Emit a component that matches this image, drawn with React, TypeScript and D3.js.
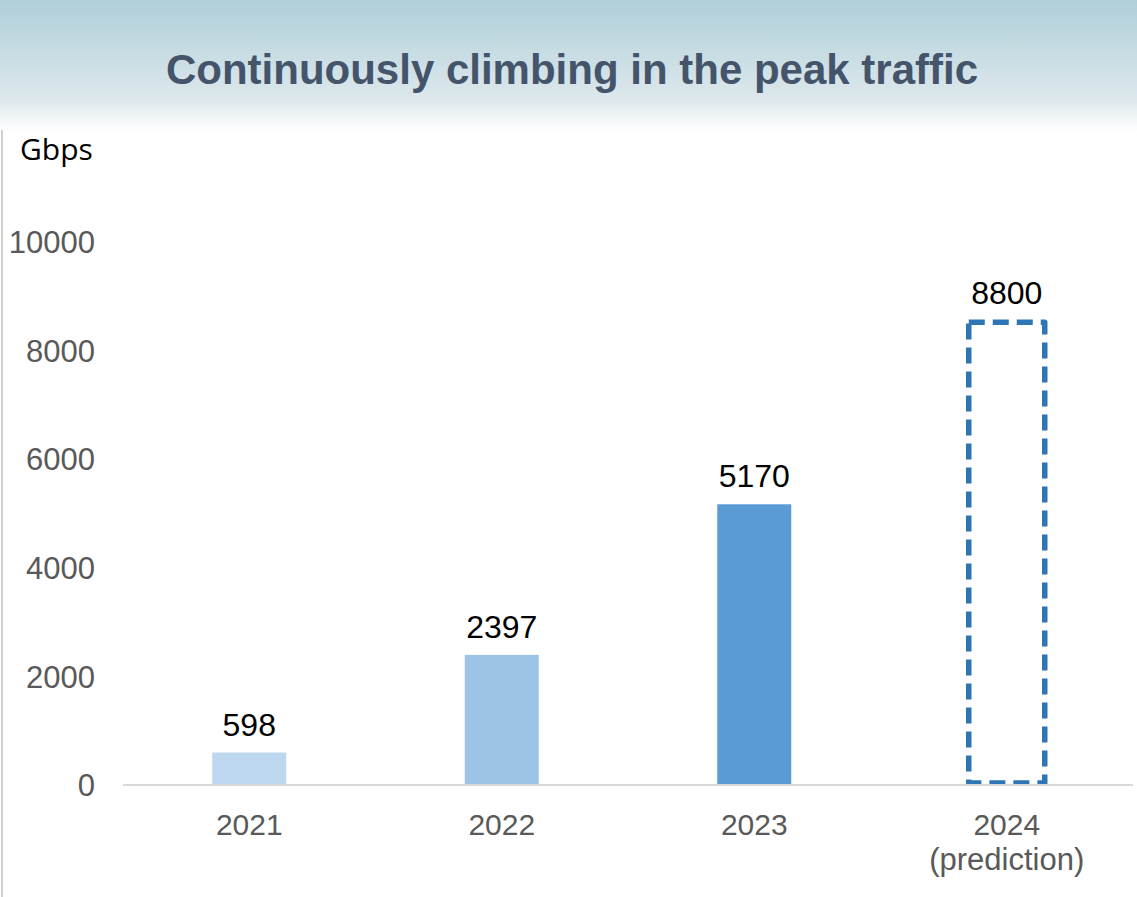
import React from "react";
import * as d3 from "d3";

const categories = ["2021", "2022", "2023", "2024"];
const categorySub = ["", "", "", "(prediction)"];
const barValues = [598, 2397, 5170, 8520];
const labelTexts = ["598", "2397", "5170", "8800"];
const barColors = ["#bdd7ee", "#9dc3e6", "#5b9bd5", "none"];
const predicted = [false, false, false, true];
const yTicks = [0, 2000, 4000, 6000, 8000, 10000];
const title = "Continuously climbing in the peak traffic";
const unit = "Gbps";

const W = 1137;
const H = 897;

export default function App() {
  const x = d3.scaleBand<string>().domain(categories).range([123, 1133]).paddingInner(0.707).paddingOuter(0.3535);
  const y = d3.scaleLinear().domain([0, 10000]).range([785, 242]);
  const bw = x.bandwidth();
  return (
    <svg width={W} height={H} style={{ position: "absolute", left: 0, top: 0, background: "#fff" }} fontFamily="Arial, 'Liberation Sans', sans-serif">
      <defs>
        <linearGradient id="hdr" x1="0" y1="0" x2="0" y2="1">
          <stop offset="0" stopColor="#afcfd9" />
          <stop offset="1" stopColor="#dfe9ed" />
        </linearGradient>
        <linearGradient id="fade" x1="0" y1="0" x2="0" y2="1">
          <stop offset="0" stopColor="#e3ecef" />
          <stop offset="1" stopColor="#ffffff" />
        </linearGradient>
      </defs>
      <rect x={0} y={0} width={W} height={104} fill="url(#hdr)" />
      <rect x={0} y={104} width={W} height={28} fill="url(#fade)" />
      <line x1={2} x2={2} y1={130} y2={H} stroke="#d0d0d0" strokeWidth={2} />
      <text x={572} y={84} textAnchor="middle" fontSize={42} fontWeight="bold" fill="#44546a">{title}</text>
      <text x={20} y={160} fontSize={30} fontFamily="'Open Sans', 'Noto Sans', sans-serif" fill="#000">{unit}</text>
      {yTicks.map((t) => (
        <text key={t} x={95} y={y(t)} dy="0.36em" textAnchor="end" fontSize={31} fill="#595959">{t}</text>
      ))}
      {categories.map((c, i) => {
        const x0 = x(c)!;
        const cx = x0 + bw / 2;
        return (
          <g key={c}>
            {predicted[i] ? (
              <rect x={x0 - 1} y={y(barValues[i])} width={bw + 2} height={y(0) - 2 - y(barValues[i])} fill="none" stroke="#2e75b6" strokeWidth={5.5} strokeDasharray="16 8" strokeLinejoin="round" />
            ) : (
              <rect x={x0} y={y(barValues[i])} width={bw} height={y(0) - y(barValues[i])} fill={barColors[i]} />
            )}
            <text x={cx} y={y(barValues[i]) - (predicted[i] ? 18 : 17)} textAnchor="middle" fontSize={32} fill="#000">{labelTexts[i]}</text>
            <text x={cx} y={835} textAnchor="middle" fontSize={30} fill="#595959">{c}</text>
            {categorySub[i] && <text x={cx} y={870} textAnchor="middle" fontSize={31} fill="#595959">{categorySub[i]}</text>}
          </g>
        );
      })}
      <line x1={123} x2={1133} y1={y(0)} y2={y(0)} stroke="#d9d9d9" strokeWidth={2} />
    </svg>
  );
}
